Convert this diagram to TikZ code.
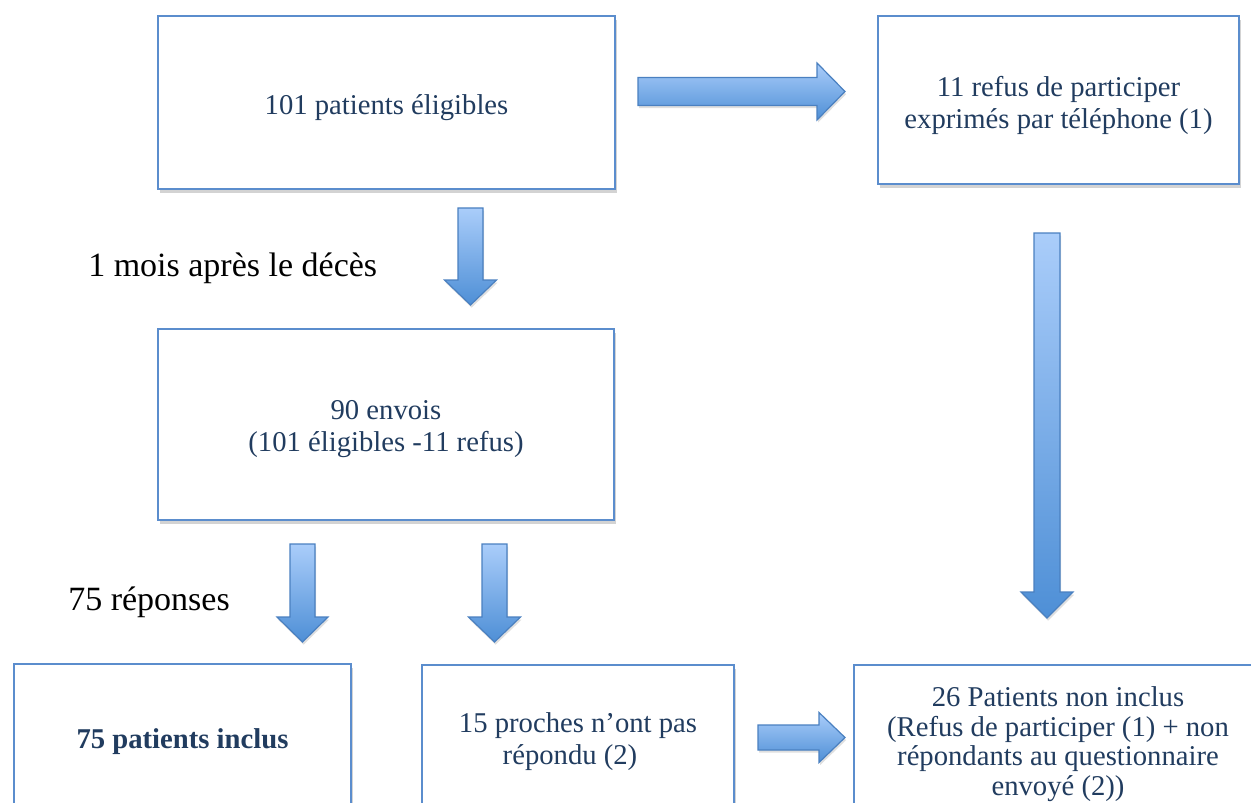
\documentclass[tikz,border=0pt]{standalone}
\usepackage{fontspec}
\setmainfont{Liberation Serif}
\usetikzlibrary{calc,shadows}
\definecolor{boxline}{RGB}{91,141,205}
\definecolor{navy}{RGB}{33,60,95}
\definecolor{arlight}{RGB}{170,205,250}
\definecolor{ardark}{RGB}{78,143,214}
\definecolor{arline}{RGB}{74,128,192}
\tikzset{
  flowbox/.style={draw=boxline, line width=1.3pt, fill=white, rectangle, inner sep=0pt,
    drop shadow={shadow xshift=1.2pt, shadow yshift=-2.8pt, opacity=0.35}},
  boxtext/.style={text=navy, align=center, inner sep=0pt,
    font=\fontsize{21.5}{24}\selectfont},
  blockarrow/.style={draw=arline, line width=0.9pt, top color=arlight, bottom color=ardark,
    line join=miter,
    drop shadow={shadow xshift=0.8pt, shadow yshift=-2pt, opacity=0.25}},
  sidelabel/.style={anchor=base west, inner sep=0pt, text=black,
    font=\fontsize{25.5}{30}\selectfont}
}
% vertical block arrow: #1 start (top centre), #2 tip, #3 shaft half width, #4 head half width, #5 head length
\newcommand{\vblock}[5]{%
  \path[blockarrow] ($(#1)+(-#3,0)$) -- ($(#1)+(#3,0)$) -- ($(#2)+(#3,-#5)$) -- ($(#2)+(#4,-#5)$)
    -- (#2) -- ($(#2)+(-#4,-#5)$) -- ($(#2)+(-#3,-#5)$) -- cycle;}
% horizontal block arrow: #1 start (left centre), #2 tip
\newcommand{\hblock}[5]{%
  \path[blockarrow] ($(#1)+(0,-#3)$) -- ($(#2)+(-#5,-#3)$) -- ($(#2)+(-#5,-#4)$) -- (#2)
    -- ($(#2)+(-#5,#4)$) -- ($(#2)+(-#5,#3)$) -- ($(#1)+(0,#3)$) -- cycle;}
\begin{document}
\begin{tikzpicture}[x=0.75pt, y=-0.75pt]
\useasboundingbox (0,0) rectangle (1251,802);
\clip (0,0) rectangle (1251,802);

% boxes
\node[flowbox, minimum width=342.75pt, minimum height=129.75pt] (A) at (386.5,102.5) {};
\node[flowbox, minimum width=270.75pt, minimum height=126pt] (B) at (1058.5,100) {};
\node[flowbox, minimum width=342pt, minimum height=143.25pt] (C) at (386,424.5) {};
\node[flowbox, minimum width=252.75pt, minimum height=113.25pt] (D) at (182.5,739.5) {};
\node[flowbox, minimum width=234pt, minimum height=112.5pt] (E) at (578,740) {};
\node[flowbox, minimum width=306pt, minimum height=112.5pt] (F) at (1058,740) {};

% box texts
\node[boxtext] (At) at ($(A)+(0,5)$) {101 patients éligibles};
\node[boxtext] (Bt) at ($(B)+(0,5)$) {11 refus de participer\\exprimés par téléphone (1)};
\node[boxtext] (Ct) at ($(C)+(0,5)$) {90 envois\\(101 éligibles -11 refus)};
\node[boxtext, font=\fontsize{21.5}{24}\selectfont\bfseries] (Dt) at ($(D)+(0,2)$) {75 patients inclus};
\node[boxtext] (Et) at ($(E)+(0,2)$) {15 proches n’ont pas\\répondu (2)\hspace*{12pt}};
\node[boxtext, font=\fontsize{21.5}{22.2}\selectfont] (Ft) at ($(F)+(0,4)$)
  {26 Patients non inclus\\(Refus de participer (1) + non\\répondants au questionnaire\\envoyé (2))};

% side labels
\node[sidelabel] (L1) at (88,276) {1 mois après le décès};
\node[sidelabel] (L2) at (68,610) {75 réponses};

% arrow end points
\coordinate (ABs) at (638,91.5);   \coordinate (ABe) at (845,91.5);
\coordinate (ACs) at (470.5,208);  \coordinate (ACe) at (470.5,305);
\coordinate (BFs) at (1047,233);   \coordinate (BFe) at (1047,618);
\coordinate (CDs) at (302.5,544);  \coordinate (CDe) at (302.5,642);
\coordinate (CEs) at (494.5,544);  \coordinate (CEe) at (494.5,642);
\coordinate (EFs) at (758,737.5);  \coordinate (EFe) at (845,737.5);

% block arrows
\hblock{ABs}{ABe}{14}{28.5}{28}
\vblock{ACs}{ACe}{12.5}{26}{25}
\vblock{BFs}{BFe}{13}{26}{26}
\vblock{CDs}{CDe}{12.5}{25.5}{25}
\vblock{CEs}{CEe}{12.5}{26}{25}
\hblock{EFs}{EFe}{12.5}{25}{26}
\end{tikzpicture}
\end{document}
